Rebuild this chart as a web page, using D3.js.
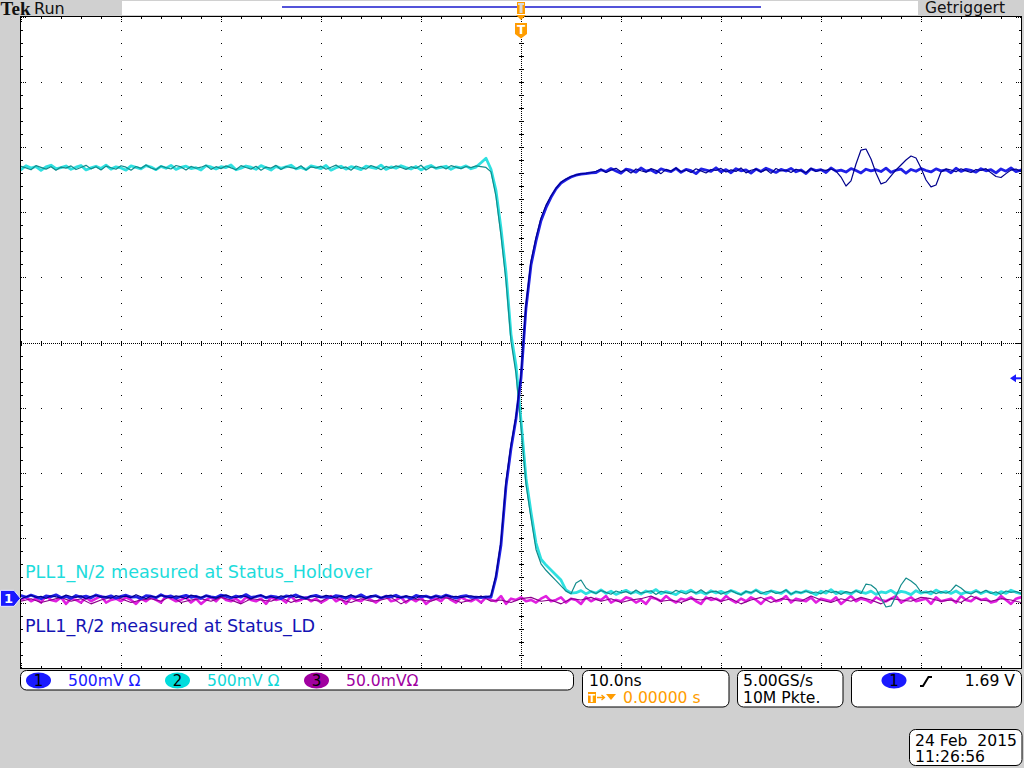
<!DOCTYPE html>
<html><head><meta charset="utf-8">
<script src="https://cdn.jsdelivr.net/npm/d3@7"></script>
<style>html,body{margin:0;padding:0;background:#d0d0d0;}svg{display:block;}</style>
</head><body><svg id="c" width="1024" height="768"></svg>
<script>
// ---------------- data (mV, 0.5 ns sample step) ----------------
const timeDomain = [-50, 50];            // ns (10 ns/div)
const sampleStep = 0.5;                  // ns
const edgeStart = -3.0;                  // ns, first sample of the edge arrays
const triggerLevel = 1690;               // mV on CH1

// CH1 (blue), 500 mV/div
const ch1Pre = [14,2,21,9,25,11,-3,18,13,27,6,15,0,22,10,17,4,26,13,7,19,1,16,24,9,12,-2,21,16,5,28,11,18,2,14,23,8,16,0,20,12,6,25,15,3,18,10,29,7,13,22,4,17,11,-2,19,14,26,8,1,16,23,9,12,5,21,15,0,18,10,27,6,13,20,3,16,11,24,7,14,-1,22,12,17,4,19,9,25,13,2,15,21,8,10,6,12];
const ch1Edge = [10,160,410,860,1150,1380,1690,2230,2560,2745,2900,3000,3080,3145,3190,3215,3236,3250,3259,3262,3268];
const ch1Post = [3270,3292,3278,3301,3283,3265,3296,3288,3274,3305,3281,3290,3268,3299,3286,3277,3303,3272,3294,3285,3262,3298,3289,3280,3307,3275,3293,3269,3300,3284,3291,3266,3297,3279,3304,3287,3271,3295,3282,3302,3276,3290,3263,3299,3285,3293,3270,3306,3281,3289,3274,3301,3286,3267,3296,3283,3292,3278,3304,3272,3288,3297,3265,3294,3280,3301,3286,3275,3299,3283,3291,3269,3303,3279,3295,3287,3273,3300,3284,3292,3268,3298,3281,3306,3277,3290,3285,3296];
// CH1 second acquisition (dark)
const ch1bPre = [5,18,-4,12,24,8,15,-1,20,11,3,26,14,7,19,-5,16,22,9,13,0,21,10,17,6,28,12,-2,18,8,23,14,4,19,11,-3,25,15,7,20,9,2,17,27,12,5,21,13,-4,16,24,8,14,1,19,10,26,6,15,-2,20,12,7,23,16,3,18,11,28,9,13,-1,21,15,4,17,25,10,6,19,12,0,22,14,8,18,3,24,11,16,7,13,20,9,15,10];
const ch1bEdge = [20,180,440,900,1180,1400,1720,2260,2590,2770,2920,3020,3090,3150,3195,3220,3240,3252,3260,3265,3270];
const ch1bPost = [3280,3296,3271,3289,3303,3277,3292,3266,3298,3284,3273,3300,3287,3262,3295,3281,3305,3276,3290,3270,3299,3283,3267,3294,3286,3302,3274,3291,3279,3306,3268,3288,3297,3275,3293,3264,3301,3282,3290,3271,3296,3285,3269,3303,3278,3292,3287,
  3298,3282,3236,3167,3206,3336,3443,3451,3374,3267,3183,3198,3244,3290,3328,3367,3397,3382,3305,3213,3160,3175,3275,3298,
  3290,3276,3299,3283,3271,3294,3286,3300,3268,3240,3232,3262,3289,3297,3279,3302,3285,3274,3293];

// CH2 (cyan), 500 mV/div
const ch2Pre = [3285,3268,3297,3279,3291,3262,3288,3301,3274,3283,3295,3270,3286,3299,3265,3281,3293,3276,3302,3271,3289,3280,3263,3296,3284,3273,3298,3287,3267,3292,3278,3300,3269,3285,3294,3275,3282,3264,3297,3288,3272,3290,3283,3303,3266,3279,3295,3286,3270,3298,3281,3264,3292,3277,3289,3301,3273,3284,3268,3296,3287,3275,3299,3263,3282,3293,3271,3290,3280,3267,3294,3285,3276,3302,3269,3288,3278,3297,3283,3272,3291,3265,3286,3299,3277,3284,3293,3270,3289,3281,3296,3274,3287,3320,3355];
const ch2Edge = [3270,3106,2815,2477,2002,1764,1342,897,637,399,276,230,192,153,115,38,15];
const ch2Post = [18,34,9,27,15,40,12,29,5,22,36,14,25,8,31,19,42,11,26,17,3,30,21,38,13,24,7,33,16,28,10,35,20,4,27,14,39,18,9,31,23,12,37,6,25,16,32,21,2,29,15,41,11,26,19,8,34,22,13,30,5,24,17,36,10,28,20,3,33,14,25,9,38,18,27,12,31,7,22,16,35,11,29,19,4,26,13,37,21,10,24,17];
// CH2 second acquisition (dark teal)
const ch2bPre = [3276,3293,3281,3266,3298,3285,3271,3290,3262,3287,3279,3296,3268,3284,3300,3273,3289,3265,3294,3282,3270,3297,3286,3263,3291,3277,3303,3280,3267,3295,3283,3272,3299,3288,3264,3292,3278,3286,3301,3269,3290,3275,3296,3281,3266,3298,3284,3271,3293,3262,3287,3279,3300,3268,3291,3283,3274,3297,3265,3289,3280,3294,3270,3286,3302,3276,3288,3263,3295,3282,3271,3299,3285,3267,3292,3278,3296,3284,3269,3290,3277,3301,3264,3288,3281,3293,3272,3298,3286,3275,3291,3283,3296,3290,3284];
const ch2bEdge = [3250,3060,2760,2410,1950,1700,1290,850,590,350,240,190,150,110,70,30,10];
const ch2bPost = [92,115,54,28,12,35,20,6,31,17,26,9,38,14,23,33,4,29,19,11,36,21,8,27,16,40,13,24,30,7,22,34,15,3,28,18,37,10,25,32,12,20,39,6,27,17,31,14,23,9,35,19,28,5,26,16,33,12,
  84,77,46,-23,-92,-84,-8,77,130,107,77,23,18,30,11,26,14,33,77,54,21,8,29,17,36,12,24,5,31,20,27,13,34,22];

// CH3 (magenta), 50 mV/div, from -50 ns
const ch3 = [0,2,-1,1,-2,3,0,-1,2,-3,1,0,-2,2,-1,1,3,-2,0,1,-1,2,0,-3,1,-1,2,0,-2,3,1,-1,0,2,-2,1,-3,0,2,-1,3,0,-1,1,-2,2,0,-1,1,-3,2,0,1,-2,3,-1,0,2,-1,1,-2,0,3,-1,1,-3,2,0,-1,2,0,-2,1,3,-1,0,2,-2,1,-1,2,-3,0,1,-1,3,0,-2,2,0,-1,1,-2,2,0,-1,3,-3,1,0,2,-1,0,-2,1,3,-1,0,2,-2,1,0,-3,2,-1,1,0,3,-2,0,-1,2,1,-2,0,-3,2,1,-1,3,0,-2,1,0,2,-1,-3,2,0,1,-1,3,0,-2,1,-1,2,0,-3,1,2,-1,0,3,-2,1,0,-1,2,-2,1,0,-1,2,-3,0,3,-1,1,0,-2,2,0,-1,1,3,-2,0,2,-1,0,1,-3,2,-1,0,1,-2,3,0,-1,2,0,1,-2,-1,3,0,-3,1,2,0,-1,1,0];
// CH3 second acquisition, 1 ns step
const ch3b = [-1,1,-2,0,2,-1,1,-3,0,2,1,-2,0,1,-1,3,-2,0,1,-1,2,0,-3,1,0,-1,2,-2,1,0,-1,3,0,-2,1,-1,0,2,-3,1,0,-1,2,1,-2,0,3,-1,0,-2,1,2,-1,0,-3,1,0,2,-1,1,-2,0,1,3,-1,0,-2,1,0,2,-1,1,-3,0,2,-2,1,0,-1,3,0,-2,1,-1,2,0,-3,1,0,-1,2,1,-1,0,-2,3,0,-1,1,0,-2,1];

// channel setup: position (div) and scale (mV/div)
const channels = {
  ch1: {pos: -3.93, scale: 500},
  ch2: {pos: -3.879, scale: 500},
  ch3: {pos: -3.955, scale: 50}
};

// ---------------- drawing ----------------
const FONT = "'DejaVu Sans', sans-serif";
const svg = d3.select("#c");
const PX0 = 21, PX1 = 1021, PY0 = 17, PY1 = 668;
const x = d3.scaleLinear().domain(timeDomain).range([PX0, PX1]);
const yDiv = d3.scaleLinear().domain([-5, 5]).range([PY1, PY0]);
const chY = (ch, v) => yDiv(channels[ch].pos + v / channels[ch].scale);

function assemble(pre, edge, post, e0, dt) {
  const out = [];
  pre.forEach((v, i) => out.push({t: e0 - dt * (pre.length - i), v}));
  edge.forEach((v, i) => out.push({t: e0 + dt * i, v}));
  post.forEach((v, i) => out.push({t: e0 + dt * (edge.length + i), v}));
  return out;
}
const forward = (arr, t0, dt) => arr.map((v, i) => ({t: t0 + dt * i, v}));

// top bar
svg.append("rect").attr("x", 0).attr("y", 0).attr("width", 1024).attr("height", 768).attr("fill", "#d0d0d0");
svg.append("text").attr("x", 0.5).attr("y", 14.5).style("font-family", "'Liberation Serif', serif").attr("font-weight", "bold")
  .attr("font-size", 19).attr("textLength", 30).attr("lengthAdjust", "spacingAndGlyphs").attr("fill", "#111").text("Tek");
svg.append("text").attr("x", 34).attr("y", 13.5).style("font-family", FONT).attr("font-size", 16).attr("fill", "#111").text("Run");
svg.append("rect").attr("x", 122).attr("y", 1).attr("width", 796).attr("height", 14).attr("fill", "#fff");
svg.append("line").attr("x1", 282).attr("x2", 761).attr("y1", 7).attr("y2", 7).attr("stroke", "#1a1acc").attr("stroke-width", 1.6);
svg.append("text").attr("x", 925).attr("y", 12.5).style("font-family", FONT).attr("font-size", 15.5).attr("fill", "#111").text("Getriggert");

// plot area
svg.append("rect").attr("x", PX0).attr("y", PY0).attr("width", PX1 - PX0).attr("height", PY1 - PY0).attr("fill", "#fff");

// graticule
const g = svg.append("g").attr("fill", "#000");
const dot = (px, py, w = 1, h = 1) => g.append("rect").attr("x", px).attr("y", py).attr("width", w).attr("height", h);
const majorT = d3.range(-50, 50.01, 10), minorT = d3.range(-50, 50.01, 2);
const majorD = d3.range(-5, 5.01, 1), minorD = d3.range(-5, 5.001, 0.2);
const cx = Math.round(x(0)), cy = Math.round(yDiv(0));
majorT.forEach(t => {
  if (t === -50 || t === 0 || t === 50) return;
  minorD.forEach(d => { if (Math.abs(d) < 4.99) dot(Math.round(x(t)), Math.round(yDiv(d))); });
});
majorD.forEach(d => {
  if (d === -5 || d === 0 || d === 5) return;
  minorT.forEach(t => { if (Math.abs(t) < 49.9) dot(Math.round(x(t)), Math.round(yDiv(d))); });
});
// center lines
for (let px = PX0; px <= PX1; px += 2) dot(px, cy);
for (let py = PY0; py <= PY1; py += 2) dot(cx, py);
minorT.forEach(t => { const px = Math.round(x(t)); dot(px, cy - 2, 1, 5); });
minorD.forEach(d => { const py = Math.round(yDiv(d)); dot(cx - 2, py, 5, 1); });
// edge ticks
minorT.forEach(t => {
  const px = Math.round(x(t));
  const major = majorT.includes(t);
  if (major) { [0, 2, 4].forEach(o => { dot(px, PY0 + o); dot(px, PY1 - 1 - o); }); }
  else { dot(px, PY0, 1, 2); dot(px, PY1 - 2, 1, 2); }
});
minorD.forEach(d => {
  const py = Math.round(yDiv(d));
  const major = Math.abs(d - Math.round(d)) < 1e-6;
  if (major) { [0, 2, 4].forEach(o => { dot(PX0 + o, py); dot(PX1 - 1 - o, py); }); }
  else { dot(PX0, py, 2, 1); dot(PX1 - 2, py, 2, 1); }
});
svg.append("rect").attr("x", PX0 - 0.5).attr("y", PY0 - 0.5).attr("width", PX1 - PX0 + 1).attr("height", PY1 - PY0 + 1)
  .attr("fill", "none").attr("stroke", "#000").attr("stroke-width", 1);

// traces
svg.append("clipPath").attr("id", "clip").append("rect").attr("x", PX0).attr("y", PY0).attr("width", PX1 - PX0).attr("height", PY1 - PY0);
const tg = svg.append("g").attr("clip-path", "url(#clip)").attr("fill", "none").attr("stroke-linejoin", "round");
function trace(ch, data, color, w) {
  const line = d3.line().x(d => x(d.t)).y(d => chY(ch, d.v));
  tg.append("path").attr("d", line(data)).attr("stroke", color).attr("stroke-width", w);
}
trace("ch3", forward(ch3, timeDomain[0], sampleStep), "#e020e0", 2.6);
trace("ch3", forward(ch3b, timeDomain[0], 1), "#8a008a", 1.1);
trace("ch2", assemble(ch2Pre, ch2Edge, ch2Post, edgeStart, sampleStep), "#2ee0e0", 2.8);
trace("ch2", assemble(ch2bPre, ch2bEdge, ch2bPost, edgeStart, sampleStep), "#138c8c", 1.2);
trace("ch1", assemble(ch1Pre, ch1Edge, ch1Post, edgeStart, sampleStep), "#2020e6", 2.8);
trace("ch1", assemble(ch1bPre, ch1bEdge, ch1bPost, edgeStart, sampleStep), "#00008c", 1.2);

// labels
svg.append("text").attr("x", 25).attr("y", 577.5).style("font-family", FONT).attr("font-size", 17.6).attr("fill", "#1edcdc").text("PLL1_N/2 measured at Status_Holdover");
svg.append("text").attr("x", 25).attr("y", 632).style("font-family", FONT).attr("font-size", 17.6).attr("fill", "#1414b4").text("PLL1_R/2 measured at Status_LD");

// trigger position marker (top)
const trigX = x(0);
svg.append("rect").attr("x", trigX - 4).attr("y", 2).attr("width", 8).attr("height", 12).attr("fill", "#ff9c00");
svg.append("rect").attr("x", trigX - 1.5).attr("y", 3).attr("width", 3).attr("height", 10).attr("fill", "#d8d8d8");
svg.append("rect").attr("x", trigX - 3).attr("y", 3).attr("width", 6).attr("height", 2).attr("fill", "#d8d8d8");
svg.append("path").attr("d", `M${trigX - 5},15 L${trigX + 5},15 L${trigX},20 Z`).attr("fill", "#ff9c00");
svg.append("path").attr("d", `M${trigX - 6},23 H${trigX + 6} V34 L${trigX},38.5 L${trigX - 6},34 Z`).attr("fill", "#ff9c00");
svg.append("text").attr("x", trigX).attr("y", 34).attr("text-anchor", "middle").style("font-family", FONT).attr("font-size", 12).attr("font-weight", "bold").attr("fill", "#fff").text("T");

// trigger level marker (right)
const tlY = chY("ch1", triggerLevel);
svg.append("path").attr("d", `M1010,${tlY} L1016,${tlY - 4} L1016,${tlY + 4} Z`).attr("fill", "#1a1aff");
svg.append("line").attr("x1", 1015).attr("x2", 1021).attr("y1", tlY).attr("y2", tlY).attr("stroke", "#1a1aff").attr("stroke-width", 2);

// ch1 ground marker (left)
const gY = chY("ch1", 0);
svg.append("path").attr("d", `M0.5,${gY - 8} H14 L20.5,${gY} L14,${gY + 8} H0.5 Z`).attr("fill", "#1a1aff").attr("stroke", "#e8e8ff").attr("stroke-width", 1);
svg.append("text").attr("x", 8.5).attr("y", gY + 5).attr("text-anchor", "middle").style("font-family", FONT).attr("font-size", 13).attr("font-weight", "bold").attr("fill", "#fff").text("1");

// status boxes
function box(x0, y0, w, h) {
  svg.append("rect").attr("x", x0).attr("y", y0).attr("width", w).attr("height", h).attr("rx", 6)
    .attr("fill", "#fff").attr("stroke", "#000").attr("stroke-width", 1);
}
function badge(cxp, n, color) {
  svg.append("ellipse").attr("cx", cxp).attr("cy", 680.5).attr("rx", 12.5).attr("ry", 8).attr("fill", color);
  svg.append("text").attr("x", cxp).attr("y", 686).attr("text-anchor", "middle").style("font-family", FONT).attr("font-size", 15).attr("fill", "#000").text(n);
}
const st = (tx, ty, s, color, anchor) => svg.append("text").attr("x", tx).attr("y", ty).style("font-family", FONT).attr("font-size", 15.6)
  .attr("fill", color).attr("text-anchor", anchor || "start").style("white-space", "pre").text(s);

box(20.5, 670.5, 553, 19.5);
badge(38.5, "1", "#1a1aff"); st(68, 686, "500mV Ω", "#1a1aff");
badge(177.5, "2", "#00dcdc"); st(207, 686, "500mV Ω", "#10d8d8");
badge(316.5, "3", "#a000a0"); st(346, 686, "50.0mVΩ", "#a000a0");

box(582.5, 670.5, 146.5, 36.5);
st(589, 686, "10.0ns", "#000");
svg.append("rect").attr("x", 588).attr("y", 692).attr("width", 8).attr("height", 11).attr("fill", "#ff9c00");
svg.append("text").attr("x", 592).attr("y", 701.5).attr("text-anchor", "middle").style("font-family", FONT).attr("font-size", 10).attr("font-weight", "bold").attr("fill", "#fff").text("T");
svg.append("path").attr("d", "M597,697.5 H604 M601.5,695 L604.5,697.5 L601.5,700").attr("stroke", "#ff9c00").attr("stroke-width", 1.3).attr("fill", "none");
svg.append("path").attr("d", "M606,694 L616,694 L611,700 Z").attr("fill", "#ff9c00");
st(623, 702.5, "0.00000 s", "#ff9c00");

box(737.5, 670.5, 105.5, 36.5);
st(743, 686, "5.00GS/s", "#000");
st(743, 702.5, "10M Pkte.", "#000");

box(851.5, 670.5, 170, 36.5);
badge(894, "1", "#1a1aff");
svg.append("path").attr("d", "M920,686 H923 L928.5,677 H932").attr("stroke", "#000").attr("stroke-width", 2).attr("fill", "none");
st(1015, 686, "1.69 V", "#000", "end");

box(909.5, 729.5, 112.5, 36);
st(915, 746, "24 Feb  2015", "#000");
st(915, 762, "11:26:56", "#000");
</script></body></html>
